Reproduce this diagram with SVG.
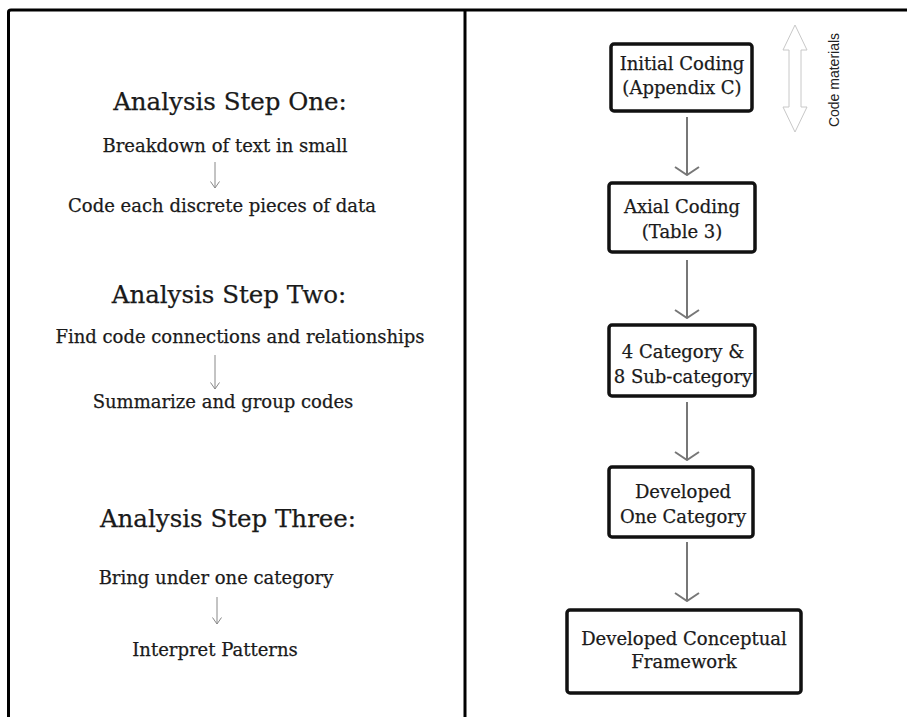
<svg xmlns="http://www.w3.org/2000/svg" width="907" height="717" viewBox="0 0 907 717">
<defs>
<style>
.t{font-family:"DejaVu Serif","Liberation Serif",serif;fill:#1a1a1a;text-anchor:middle;stroke:#1a1a1a;stroke-width:0.25}
.h{font-size:24.5px}
.b{font-size:18px}
.bx{fill:#fff;stroke:#111;stroke-width:3.5}
.bt{font-family:"DejaVu Serif","Liberation Serif",serif;fill:#1a1a1a;stroke:#1a1a1a;stroke-width:0.25;text-anchor:middle;font-size:18px}
.con{stroke:#777;stroke-width:2;fill:none}
.sm{stroke:#888;stroke-width:1;fill:none}
</style>
<marker id="ah" viewBox="0 0 10 26" refX="9" refY="13" markerWidth="10" markerHeight="26" markerUnits="userSpaceOnUse" orient="auto">
<path d="M1,1 L9,13 L1,25" fill="none" stroke="#777" stroke-width="2"/>
</marker>
<marker id="ahs" viewBox="0 0 8 10" refX="7" refY="5" markerWidth="8" markerHeight="10" markerUnits="userSpaceOnUse" orient="auto">
<path d="M0.5,0.5 L7,5 L0.5,9.5" fill="none" stroke="#888" stroke-width="1"/>
</marker>
</defs>
<rect width="907" height="717" fill="#fff"/>
<g id="frame" stroke="#000" stroke-width="3" fill="none">
<path d="M8.5,717 L8.5,12 Q8.5,10 11,10 L907,10"/>
<line x1="465" y1="10" x2="465" y2="717"/>
</g>
<g id="left-text">
<text class="t h" x="230" y="110">Analysis Step One:</text>
<text class="t b" x="225" y="152">Breakdown of text in small</text>
<text class="t b" x="222" y="212">Code each discrete pieces of data</text>
<text class="t h" x="229" y="303">Analysis Step Two:</text>
<text class="t b" x="240" y="343">Find code connections and relationships</text>
<text class="t b" x="223" y="408">Summarize and group codes</text>
<text class="t h" x="228" y="527">Analysis Step Three:</text>
<text class="t b" x="216" y="584">Bring under one category</text>
<text class="t b" x="215" y="656">Interpret Patterns</text>
</g>
<g id="left-arrows">
<line class="sm" x1="215" y1="162" x2="215" y2="188" marker-end="url(#ahs)"/>
<line class="sm" x1="215" y1="355" x2="215" y2="389" marker-end="url(#ahs)"/>
<line class="sm" x1="217" y1="597" x2="217" y2="624" marker-end="url(#ahs)"/>
</g>
<g id="connectors">
<line class="con" x1="687" y1="117" x2="687" y2="175" marker-end="url(#ah)"/>
<line class="con" x1="687" y1="260" x2="687" y2="318" marker-end="url(#ah)"/>
<line class="con" x1="687" y1="402" x2="687" y2="460" marker-end="url(#ah)"/>
<line class="con" x1="687" y1="542" x2="687" y2="601" marker-end="url(#ah)"/>
</g>
<g id="n1">
<rect class="bx" x="611" y="44" width="141" height="67" rx="3"/>
<text class="bt" x="682" y="70">Initial Coding</text>
<text class="bt" x="682" y="94">(Appendix C)</text>
</g>
<g id="n2">
<rect class="bx" x="609" y="183" width="146" height="69" rx="3"/>
<text class="bt" x="682" y="213">Axial Coding</text>
<text class="bt" x="682" y="238">(Table 3)</text>
</g>
<g id="n3">
<rect class="bx" x="609" y="325" width="146" height="71" rx="3"/>
<text class="bt" x="683" y="358">4 Category &amp;</text>
<text class="bt" x="683" y="383">8 Sub-category</text>
</g>
<g id="n4">
<rect class="bx" x="609" y="467" width="144" height="70" rx="3"/>
<text class="bt" x="683" y="498">Developed</text>
<text class="bt" x="683" y="523">One Category</text>
</g>
<g id="n5">
<rect class="bx" x="567" y="610" width="234" height="83" rx="3"/>
<text class="bt" x="684" y="645">Developed Conceptual</text>
<text class="bt" x="684" y="668">Framework</text>
</g>
<g id="code-materials">
<path d="M795,25 L807,50 L801,50 L801,107 L807,107 L795,132 L783,107 L789,107 L789,50 L783,50 Z" fill="#fff" stroke="#c8c8c8" stroke-width="1"/>
<text x="0" y="0" transform="translate(839,80) rotate(-90)" font-family="'Liberation Sans',Arial,sans-serif" font-size="14" text-anchor="middle" fill="#222">Code materials</text>
</g>
</svg>
